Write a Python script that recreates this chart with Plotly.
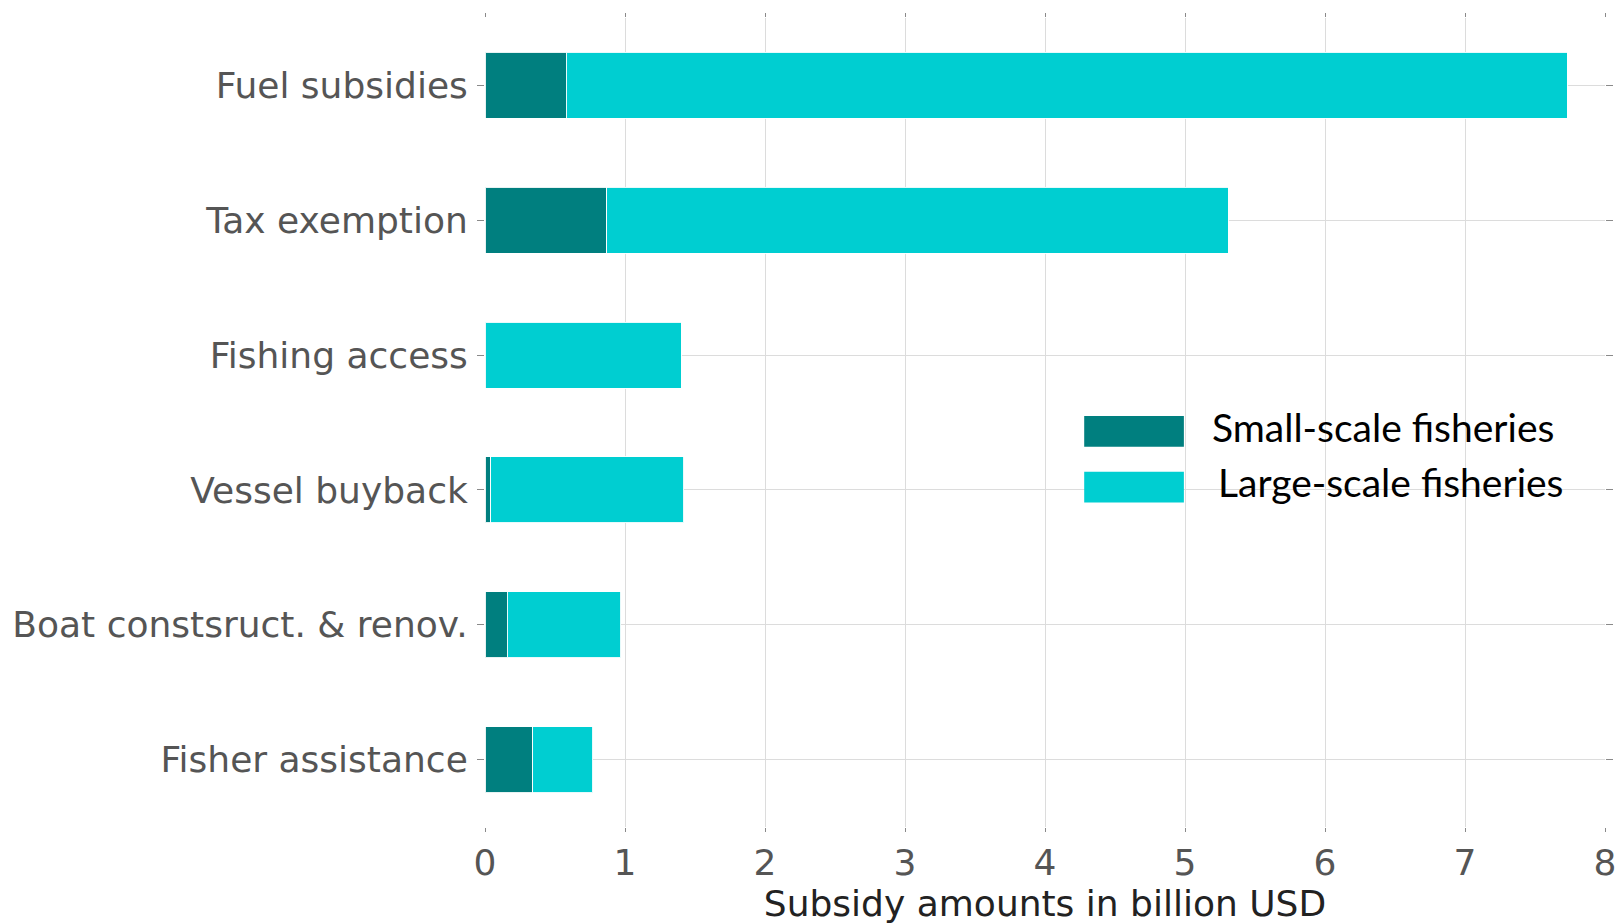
import plotly.graph_objects as go

categories = ["Fuel subsidies", "Tax exemption", "Fishing access", "Vessel buyback",
              "Boat constsruct. & renov.", "Fisher assistance"]
small_scale = [0.58, 0.87, 0.0, 0.04, 0.16, 0.34]
large_scale = [7.15, 4.44, 1.40, 1.38, 0.81, 0.43]
x_ticks = [0, 1, 2, 3, 4, 5, 6, 7, 8]
series_names = ["Small-scale fisheries", "Large-scale fisheries"]
series_colors = ["#007F7F", "#00CED1"]

fig = go.Figure()
for name, vals, col in zip(series_names, [small_scale, large_scale], series_colors):
    fig.add_trace(go.Bar(
        y=categories, x=vals, name=name, orientation="h",
        marker=dict(color=col, line=dict(color="rgba(255,255,255,0.9)", width=1)),
        showlegend=False,
    ))

# Custom large legend (swatches + text) drawn in paper coordinates
swatch_y = [0.489, 0.420]
text_y = [0.495, 0.426]
for i, (name, col) in enumerate(zip(series_names, series_colors)):
    fig.add_shape(type="rect", xref="paper", yref="paper",
                  x0=0.535, x1=0.624, y0=swatch_y[i] - 0.019, y1=swatch_y[i] + 0.019,
                  fillcolor=col, line=dict(width=0))
    fig.add_annotation(xref="paper", yref="paper", x=0.647 + 0.006 * i, y=text_y[i],
                       text=name, showarrow=False, xanchor="left", yanchor="middle",
                       font=dict(family="Lato", size=39, color="#000000"))

axis_common = dict(
    showgrid=True, gridcolor="#dcdcdc", gridwidth=1,
    showline=False, zeroline=False, automargin=False,
    ticks="outside", tickwidth=1, tickcolor="#8a8a8a",
    mirror="ticks",
)

fig.update_layout(
    barmode="stack",
    bargap=0.51,
    width=1615, height=916,
    margin=dict(l=477, r=18, t=10, b=97, autoexpand=False),
    plot_bgcolor="white", paper_bgcolor="white",
    font=dict(family="DejaVu Sans", color="#555555"),
    xaxis=dict(
        range=[0, 8], tickvals=x_ticks, ticktext=[str(v) for v in x_ticks],
        tickfont=dict(size=36, color="#555555"), ticklen=4,
        title=dict(text="Subsidy amounts in billion USD",
                   font=dict(size=36, color="#222222"), standoff=0),
        **axis_common,
    ),
    yaxis=dict(
        type="category", categoryorder="array", categoryarray=categories,
        range=[5.5, -0.5],
        tickfont=dict(size=36, color="#555555"), ticklen=7,
        ticklabelstandoff=2,
        **axis_common,
    ),
)

fig.write_html("out.html")
